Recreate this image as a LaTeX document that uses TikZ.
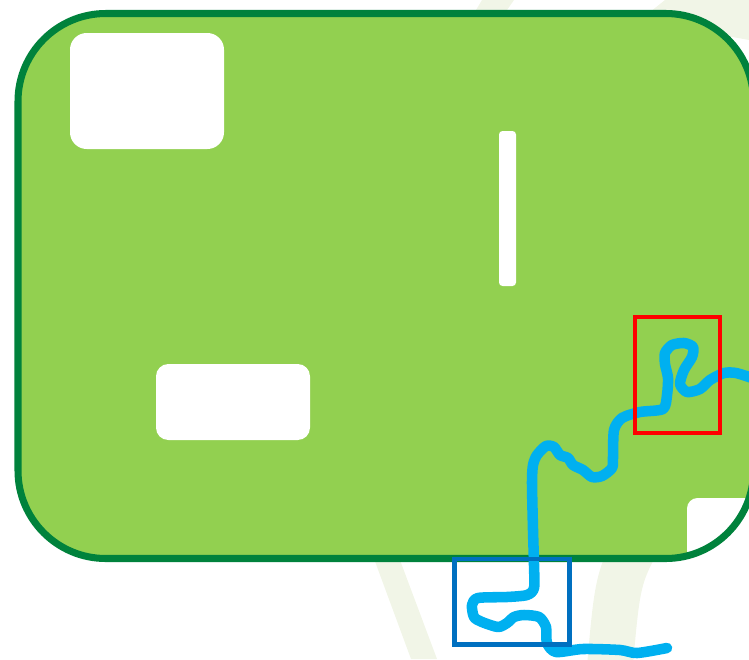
\documentclass[tikz,border=0pt]{standalone}
\usepackage{xcolor}
\usepackage{tikz}
\definecolor{fieldgreen}{RGB}{146, 208, 80}
\definecolor{edgegreen}{RGB}{0, 130, 60}
\definecolor{rivercyan}{RGB}{0, 176, 240}
\definecolor{boxblue}{RGB}{0, 112, 192}
\definecolor{markfaint}{RGB}{241, 245, 231}

\begin{document}
\begin{tikzpicture}[x=0.02cm, y=-0.02cm]
  \clip (0,0) rectangle (749,659);
  % Faint watermark behind
  \fill[markfaint] (345,480) -- (370,480) -- (437,659) -- (411,659) -- cycle;
  \draw[markfaint, line width=26pt] (650,520) .. controls (618,575) .. (610,665);
  \fill[markfaint] (482,0) -- (514,0) -- (500,20) -- (470,20) -- cycle;
  \fill[markfaint] (640,20) -- (665,0) -- (749,0) -- (749,40) -- cycle;
  % Field
  \fill[fieldgreen, rounded corners=50pt] (18,13.5) rectangle (753.5,558.5);
  % White patches
  \fill[white, rounded corners=9.5pt] (70,33) rectangle (224,149);
  \fill[white, rounded corners=7pt] (156,364) rectangle (310,440);
  \fill[white, rounded corners=2pt] (499,131) rectangle (516,286);
  \begin{scope}
    \clip[rounded corners=50pt] (18,13.5) rectangle (753.5,558.5);
    \fill[white, rounded corners=6pt] (687,498) rectangle (790,620);
  \end{scope}
  % Field border
  \draw[edgegreen, line width=4pt, rounded corners=50pt] (18,13.5) rectangle (753.5,558.5);
  % River
  \draw[rivercyan, line width=6pt, line cap=round, line join=round]
    plot[smooth, tension=0.45] coordinates {
      (752,378) (736,373) (724,373) (710,380) (700,389) (687,392)
      (680,384) (684,370) (692,357) (693,347) (684,343) (672,345)
      (665,353) (665,364) (668,378) (667,395) (663,409) (640,412)
      (622,418) (614,430) (613,457) (612,468) (602,476) (592,477)
      (583,470) (573,465) (568,458) (560,455) (554,447) (546,446)
      (537,455) (533,465) (532,483) (533,530) (534,565) (534,588)
      (527,595) (507,597) (478,598) (472,605) (474,617) (482,622)
      (498,627) (507,623) (514,617) (524,615) (539,617) (546,627)
      (547,643) (556,652) (583,649) (620,650) (637,653) (667,648)};
  % Marked areas
  \draw[red, line width=2.3pt] (635,317) rectangle (720,433);
  \draw[boxblue, line width=2.5pt] (454.5,559) rectangle (569.5,644.5);
\end{tikzpicture}
\end{document}
